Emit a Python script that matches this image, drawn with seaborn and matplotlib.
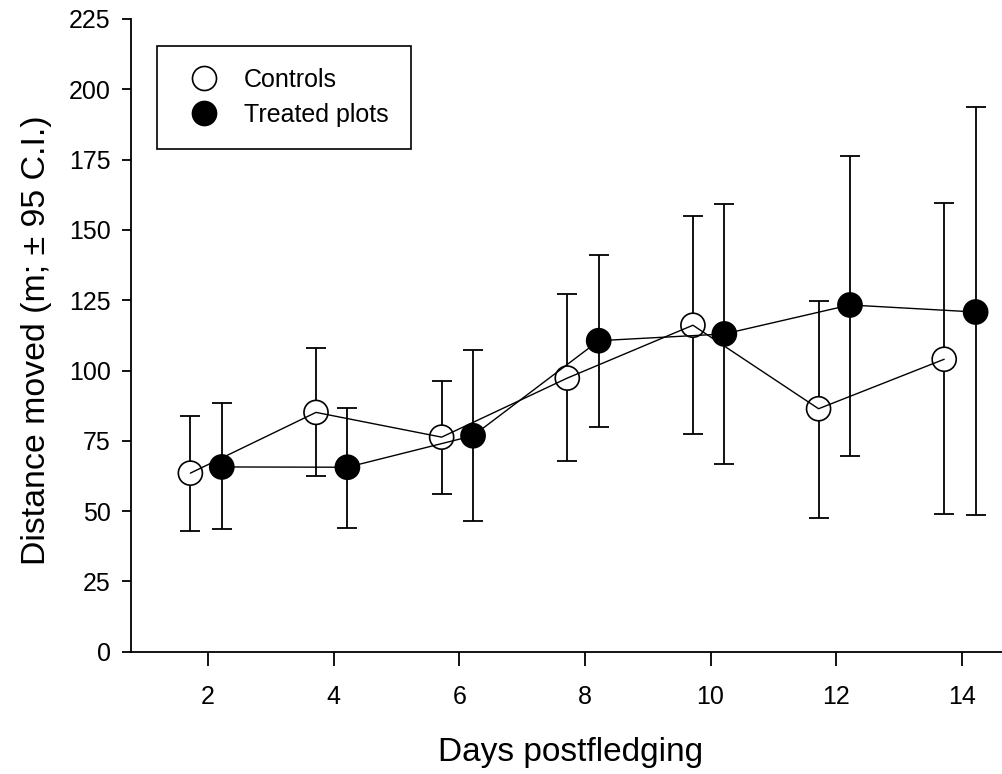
import numpy as np
import pandas as pd
import matplotlib
matplotlib.use("Agg")
import matplotlib.pyplot as plt
import seaborn as sns
from matplotlib.lines import Line2D

# ---- data ----
days = [2, 4, 6, 8, 10, 12, 14]
ctrl_mean = [63.5, 85.1, 76.3, 97.3, 116.1, 86.4, 104.0]
ctrl_low = [42.9, 62.4, 56.0, 67.8, 77.3, 47.5, 49.0]
ctrl_high = [83.8, 108.0, 96.4, 127.2, 155.0, 124.8, 159.7]
trt_mean = [65.7, 65.6, 76.8, 110.6, 113.0, 123.3, 120.8]
trt_low = [43.5, 44.1, 46.5, 80.0, 66.7, 69.7, 48.6]
trt_high = [88.3, 86.8, 107.3, 141.0, 159.2, 176.2, 193.6]
groups = ["Controls", "Treated plots"]
y_ticks = [0, 25, 50, 75, 100, 125, 150, 175, 200, 225]
x_ticks = [2, 4, 6, 8, 10, 12, 14]

sns.set_theme(style="white")
plt.rcParams["font.family"] = ["Liberation Sans", "DejaVu Sans"]
plt.rcParams["text.color"] = "black"
plt.rcParams["axes.labelcolor"] = "black"
plt.rcParams["xtick.color"] = "black"
plt.rcParams["ytick.color"] = "black"

ctrl_off, trt_off = -0.28, 0.22
df = pd.DataFrame({
    "x": [d + ctrl_off for d in days] + [d + trt_off for d in days],
    "y": ctrl_mean + trt_mean,
    "lo": ctrl_low + trt_low,
    "hi": ctrl_high + trt_high,
    "group": [groups[0]] * len(days) + [groups[1]] * len(days),
})

fig = plt.figure(figsize=(10.02, 7.74), dpi=100)
ax = fig.add_axes([131 / 1002, 1 - 651.7 / 774, 871 / 1002, 632.7 / 774])

# error bars
for g in groups:
    sub = df[df.group == g]
    ax.errorbar(sub.x, sub.y, yerr=[sub.y - sub.lo, sub.hi - sub.y], fmt="none",
                ecolor="black", elinewidth=1.3, capsize=7, capthick=1.3, zorder=1)

# markers
sns.scatterplot(data=df, x="x", y="y", hue="group",
                palette={groups[0]: "white", groups[1]: "black"},
                s=300, edgecolor="black", linewidth=1.2, legend=False, ax=ax, zorder=2)

# connecting lines
sns.lineplot(data=df, x="x", y="y", hue="group",
             palette={groups[0]: "black", groups[1]: "black"},
             linewidth=1.0, legend=False, ax=ax, zorder=3, sort=True)

ax.set_xlim(0.775, 14.64)
ax.set_ylim(0, 225)
ax.set_xticks(x_ticks)
ax.set_yticks(y_ticks)
ax.set_xticklabels([str(t) for t in x_ticks])
ax.set_yticklabels([str(t) for t in y_ticks])

for s in ["top", "right"]:
    ax.spines[s].set_visible(False)
for s in ["left", "bottom"]:
    ax.spines[s].set_color("black")
    ax.spines[s].set_linewidth(1.3)

ax.tick_params(axis="x", direction="out", length=10, width=1.3, color="black",
               labelcolor="black", labelsize=18, pad=14, bottom=True)
ax.tick_params(axis="y", direction="out", length=6.7, width=1.3, color="black",
               labelcolor="black", labelsize=18, pad=8, left=True)

ax.set_xlabel("Days postfledging", fontsize=24, color="black")
ax.set_ylabel("Distance moved (m; \u00b1 95 C.I.)", fontsize=24.4, color="black")
ax.xaxis.label.set_va("baseline")
ax.xaxis.set_label_coords((570.5 - 131) / 871, (651.7 - 761) / 632.7)
ax.yaxis.label.set_va("center")
ax.yaxis.set_label_coords((37 - 131) / 871, (651.7 - 340) / 632.7)

handles = [
    Line2D([], [], marker="o", ls="none", markersize=17.3, mfc="white", mec="black", mew=1.2),
    Line2D([], [], marker="o", ls="none", markersize=17.3, mfc="black", mec="black", mew=1.2),
]
leg = ax.legend(handles, groups, loc="upper left",
                bbox_to_anchor=(157 / 1002, 1 - 45.7 / 774), bbox_transform=fig.transFigure,
                borderaxespad=0, borderpad=0.88, handlelength=2.0, handletextpad=0.6,
                labelspacing=0.45, fontsize=18, fancybox=False, framealpha=1,
                edgecolor="black")
leg.get_frame().set_linewidth(1.2)

fig.savefig("out.png", dpi=100)
